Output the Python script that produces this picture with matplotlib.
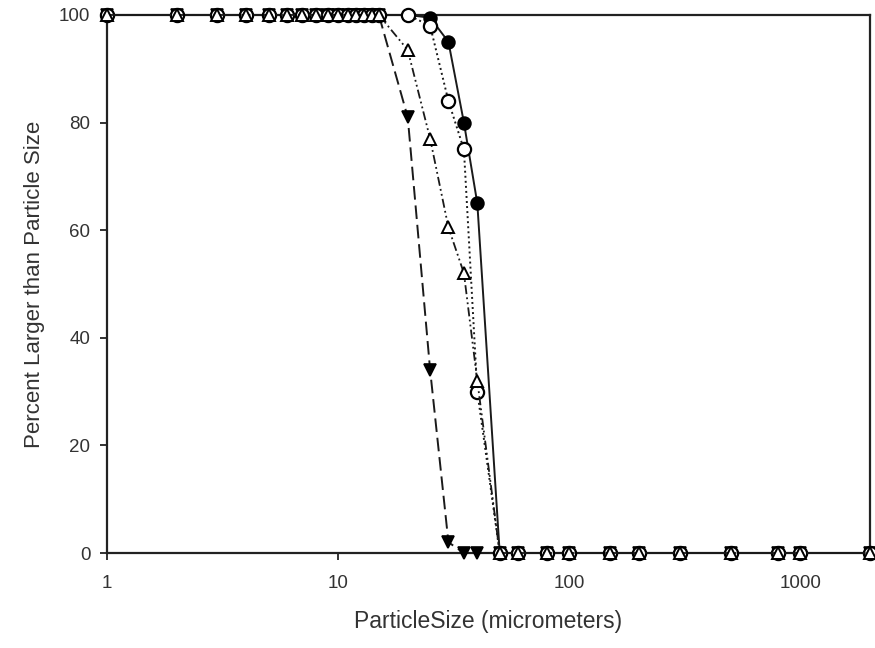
import matplotlib
matplotlib.use("Agg")
import matplotlib.pyplot as plt

plt.rcParams['font.family'] = ['Liberation Sans', 'DejaVu Sans']

# particle sizes (micrometers)
sizes = [1, 2, 3, 4, 5, 6, 7, 8, 9, 10, 11, 12, 13, 14, 15,
         20, 25, 30, 35, 40, 50, 60, 80, 100, 150, 200, 300, 500, 800, 1000, 2000]
fine = [100] * 15                 # 1 .. 15 um, all samples at 100 %
coarse = [0] * 10                 # 60 .. 2000 um, all samples at 0 %

# percent larger than particle size for 20, 25, 30, 35, 40, 50 um
filled_circle = fine + [100, 99.5, 95, 80, 65, 0] + coarse
open_circle = fine + [100, 98, 84, 75, 30, 0] + coarse
open_triangle = fine + [93.5, 77, 60.5, 52, 32, 0] + coarse
filled_triangle = fine + [81, 34, 2, 0, 0, 0] + coarse

xticks = [1, 10, 100, 1000]
yticks = [0, 20, 40, 60, 80, 100]

fig = plt.figure(figsize=(8.75, 6.48), dpi=100)
ax = fig.add_axes([0.1223, 0.1466, 0.8720, 0.8303])

lc = '#1a1a1a'
# draw order: filled circle, filled triangle, open circle, open triangle on top
ax.plot(sizes, filled_circle, color=lc, lw=1.4, ls='-',
        marker='o', ms=9, mfc='black', mec='black', mew=1.4, zorder=3)
ax.plot(sizes, filled_triangle, color=lc, lw=1.4, ls=(0, (7, 3)),
        marker='v', ms=9, mfc='black', mec='black', mew=1.2, zorder=3)
ax.plot(sizes, open_circle, color=lc, lw=1.4, ls=(0, (1, 1.6)),
        marker='o', ms=9.5, mfc='white', mec='black', mew=1.6, zorder=4)
ax.plot(sizes, open_triangle, color=lc, lw=1.3, ls=(0, (5, 1.8, 1, 1.8, 1, 1.8)),
        marker='^', ms=8.5, mfc='white', mec='black', mew=1.4, zorder=5)

ax.set_xscale('log')
ax.set_xlim(1, 2000)
ax.set_ylim(0, 100)
ax.set_xticks(xticks)
ax.set_xticklabels([str(t) for t in xticks])
ax.minorticks_off()
ax.set_yticks(yticks)

tc = '#333333'
ax.tick_params(direction='out', length=5, width=1.4, colors='#333333',
               labelsize=13.5, pad=7)
ax.tick_params(axis='x', pad=11)
for s in ax.spines.values():
    s.set_linewidth(1.6)
    s.set_color('#222222')

ax.set_xlabel('ParticleSize (micrometers)', fontsize=16.5, color=tc, labelpad=13)
ax.set_ylabel('Percent Larger than Particle Size', fontsize=16, color=tc, labelpad=10)

for m in ax.lines:
    m.set_clip_on(False)

fig.savefig('out.png', dpi=100)
